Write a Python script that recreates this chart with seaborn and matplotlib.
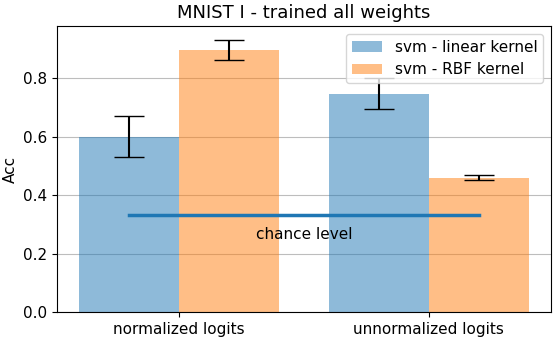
import matplotlib
matplotlib.use("Agg")
import matplotlib.pyplot as plt
import seaborn as sns
import pandas as pd
import numpy as np

categories = ["normalized logits", "unnormalized logits"]
series = ["svm - linear kernel", "svm - RBF kernel"]
linear_acc = [0.600, 0.747]
linear_err = [0.069, 0.053]
rbf_acc = [0.897, 0.460]
rbf_err = [0.035, 0.008]
chance = 1.0 / 3.0

df = pd.DataFrame({
    "category": categories * 2,
    "model": [series[0]] * 2 + [series[1]] * 2,
    "acc": linear_acc + rbf_acc,
})

plt.rcParams["font.family"] = ["DejaVu Sans"]
fig, ax = plt.subplots(figsize=(5.58, 3.41), dpi=100)
fig.subplots_adjust(left=0.102, right=0.9875, top=0.924, bottom=0.085)

sns.barplot(data=df, x="category", y="acc", hue="model", ax=ax,
            palette=["#1f77b4", "#ff7f0e"], alpha=0.5, saturation=1,
            errorbar=None, width=0.8, zorder=2)

# error bars
errs = linear_err + rbf_err
vals = linear_acc + rbf_acc
patches = [p for p in ax.patches if p.get_height() > 0][:4]
for p, v, e in zip(patches, vals, errs):
    xc = p.get_x() + p.get_width() / 2
    ax.errorbar(xc, v, yerr=e, color="black", capsize=11, elinewidth=1.5,
                capthick=1, zorder=3)

ax.plot([-0.2, 1.2], [chance, chance], color="#1f77b4", lw=2.5, zorder=4)
ax.text(0.5, 0.265, "chance level", ha="center", va="center", fontsize=11)

ax.set_title("MNIST I - trained all weights", fontsize=13)
ax.set_ylabel("Acc", fontsize=11)
ax.set_xlabel("")
ax.tick_params(labelsize=11)
ax.set_yticks([0.0, 0.2, 0.4, 0.6, 0.8])
ax.grid(axis="y", color="#bdbdbd", lw=0.8, zorder=0)
ax.set_axisbelow(True)
ax.legend(loc="upper right", fontsize=11)
for s in ax.spines.values():
    s.set_color("black")

fig.savefig("out.png", dpi=100)
